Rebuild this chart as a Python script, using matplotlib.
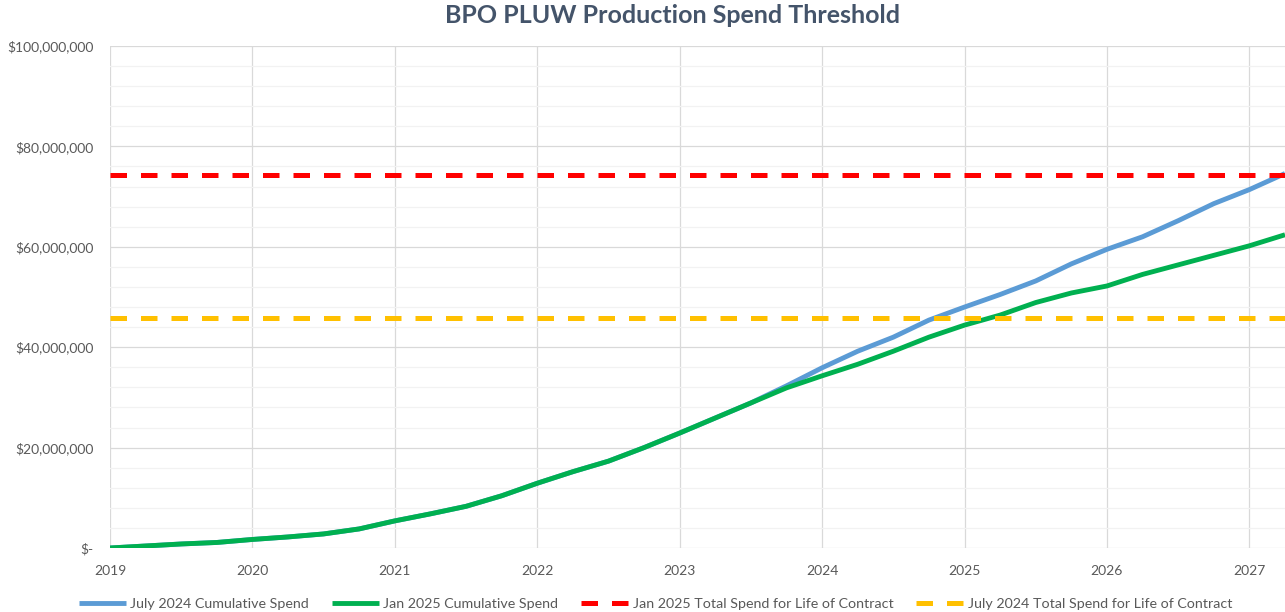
import matplotlib.pyplot as plt
from matplotlib.ticker import FuncFormatter, MultipleLocator

# decimal years, quarterly
years = [2019.0, 2019.25, 2019.5, 2019.75, 2020.0, 2020.25, 2020.5, 2020.75,
         2021.0, 2021.25, 2021.5, 2021.75, 2022.0, 2022.25, 2022.5, 2022.75,
         2023.0, 2023.25, 2023.5, 2023.75, 2024.0, 2024.25, 2024.5, 2024.75,
         2025.0, 2025.25, 2025.5, 2025.75, 2026.0, 2026.25, 2026.5, 2026.75,
         2027.0, 2027.25]

# cumulative spend, $M
jul24_cum = [0.0, 0.4, 0.8, 1.1, 1.7, 2.2, 2.8, 3.8,
             5.4, 6.8, 8.3, 10.4, 12.9, 15.2, 17.3, 20.0,
             22.9, 25.9, 28.9, 32.3, 35.9, 39.2, 42.0, 45.4,
             48.0, 50.5, 53.2, 56.6, 59.5, 62.0, 65.2, 68.6,
             71.4, 74.6]
jan25_cum = [0.0, 0.4, 0.8, 1.1, 1.7, 2.2, 2.8, 3.8,
             5.4, 6.8, 8.3, 10.4, 12.9, 15.2, 17.3, 20.0,
             22.9, 25.9, 28.9, 31.9, 34.3, 36.6, 39.2, 42.0,
             44.4, 46.4, 48.9, 50.8, 52.2, 54.5, 56.4, 58.3,
             60.2, 62.4]

jan25_total = 74.3
jul24_total = 45.8

labels = ["July 2024 Cumulative Spend", "Jan 2025 Cumulative Spend",
          "Jan 2025 Total Spend for Life of Contract",
          "July 2024 Total Spend for Life of Contract"]

c_blue = "#5B9BD5"
c_green = "#00B050"
c_red = "#FF0000"
c_yellow = "#FFC000"
c_text = "#595959"

plt.rcParams["font.family"] = ["Lato", "DejaVu Sans"]

fig = plt.figure(figsize=(12.85, 6.12), dpi=100)
ax = fig.add_axes([0.0856, 0.1046, 0.9144, 0.8202])

xs = years
ax.plot(xs, [v * 1e6 for v in jul24_cum], color=c_blue, lw=3.5,
        solid_capstyle="butt", label=labels[0], zorder=3)
ax.plot(xs, [v * 1e6 for v in jan25_cum], color=c_green, lw=3.5,
        solid_capstyle="butt", label=labels[1], zorder=4)
ax.plot([years[0], years[-1]], [jan25_total * 1e6] * 2, color=c_red, lw=3.6,
        dashes=(3.3, 2.8), label=labels[2], zorder=5)
ax.plot([years[0], years[-1]], [jul24_total * 1e6] * 2, color=c_yellow, lw=3.6,
        dashes=(3.3, 2.8), label=labels[3], zorder=5)

ax.set_xlim(2019, 2027.25)
ax.set_ylim(0, 100e6)
ax.xaxis.set_major_locator(MultipleLocator(1))
ax.xaxis.set_major_formatter(FuncFormatter(lambda v, p: f"{int(round(v))}"))
ax.yaxis.set_major_locator(MultipleLocator(20e6))
ax.yaxis.set_minor_locator(MultipleLocator(4e6))
ax.yaxis.set_major_formatter(
    FuncFormatter(lambda v, p: "$-" if v == 0 else f"${v:,.0f}"))

ax.grid(which="major", color="#D9D9D9", lw=0.9)
ax.grid(which="minor", axis="y", color="#F2F2F2", lw=0.9)
ax.set_axisbelow(True)
for s in ax.spines.values():
    s.set_visible(False)
ax.tick_params(which="both", length=0, colors=c_text, labelsize=10)
ax.tick_params(axis="x", pad=12)
ax.tick_params(axis="y", pad=12)

fig.text(0.523, 0.974, "BPO PLUW Production Spend Threshold", ha="center",
         va="center", fontsize=18, fontweight="bold", color="#44546A")

leg = fig.legend(loc="center", bbox_to_anchor=(0.51, 0.013), ncol=4,
                 frameon=False, fontsize=10.3, handlelength=3.3,
                 columnspacing=1.6, handletextpad=0.3)
for t in leg.get_texts():
    t.set_color(c_text)

fig.savefig("out.png", dpi=100)
